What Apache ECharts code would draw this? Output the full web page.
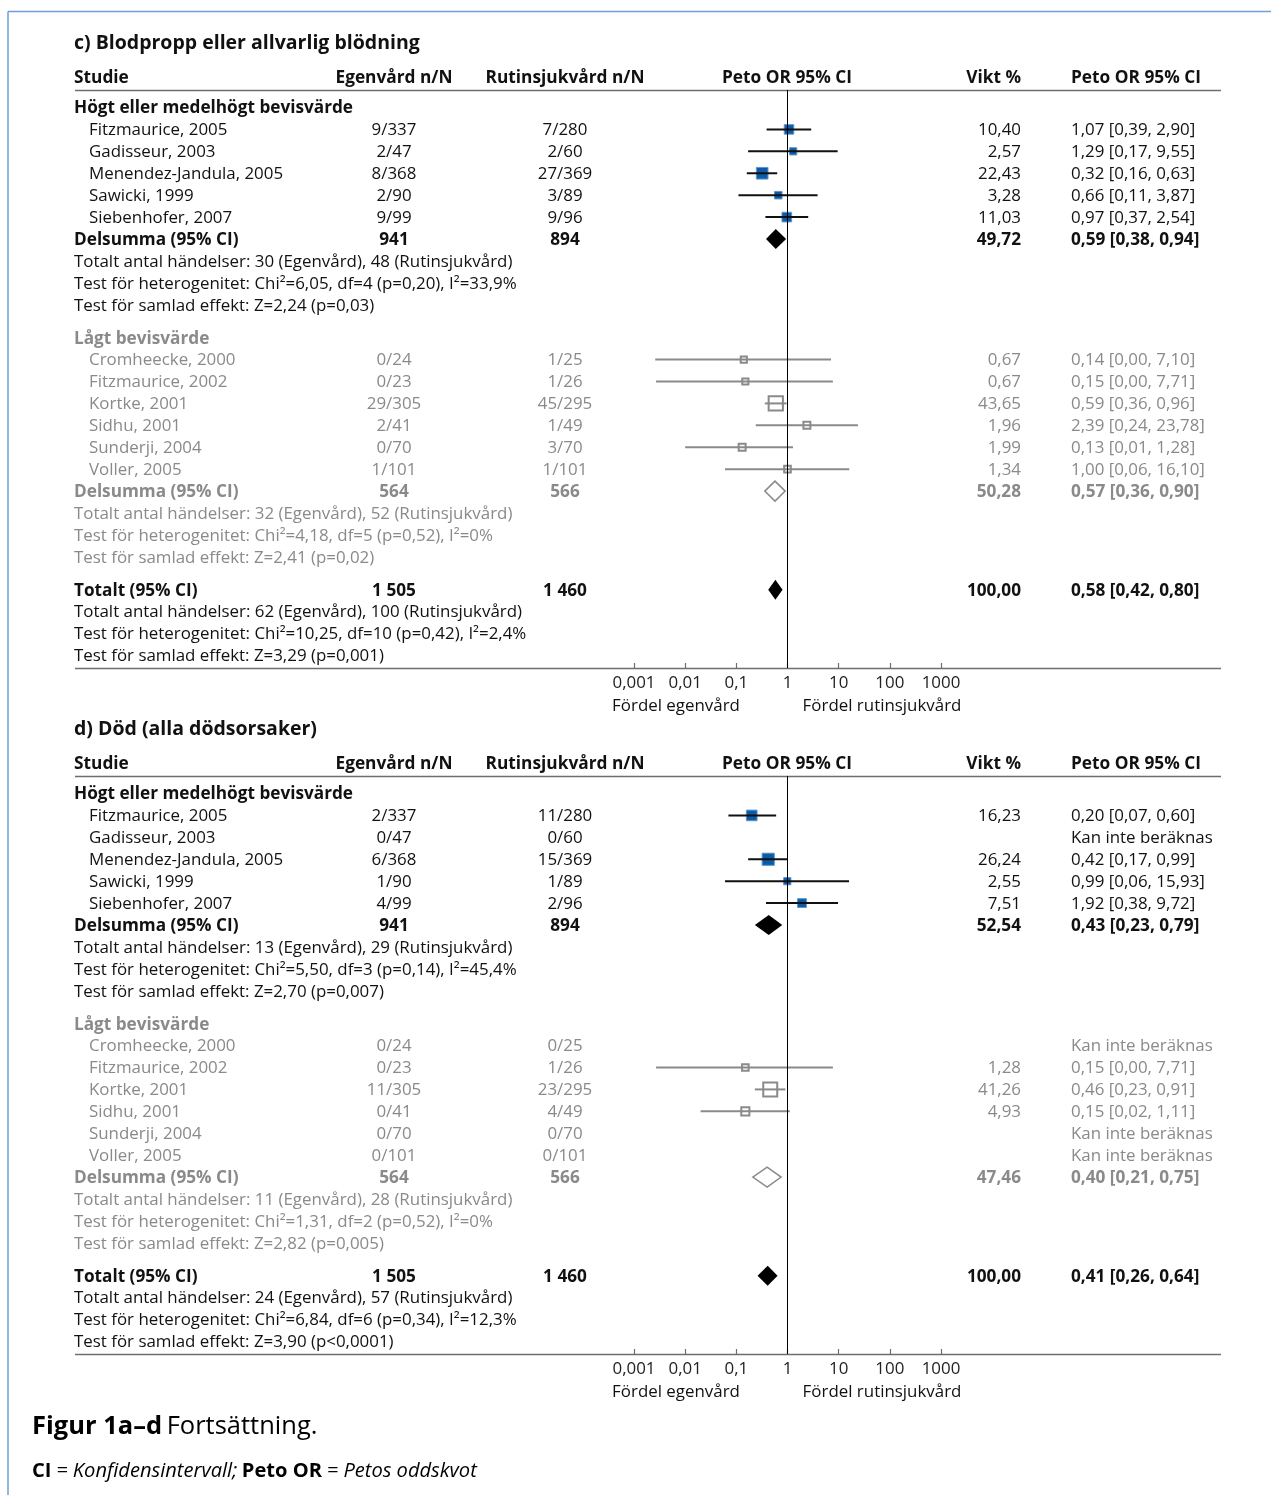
<!DOCTYPE html>
<html>
<head>
<meta charset="utf-8">
<script src="https://cdn.jsdelivr.net/npm/echarts@6/dist/echarts.min.js"></script>
<style>
html,body{margin:0;padding:0;background:#fff}
#chart{width:1271px;height:1495px}
</style>
</head>
<body>
<div id="chart"></div>
<script>
// ---------- shared labels ----------
const headers = ['Studie', 'Egenvård n/N', 'Rutinsjukvård n/N', 'Peto OR 95% CI', 'Vikt %', 'Peto OR 95% CI'];
const groupNames = ['Högt eller medelhögt bevisvärde', 'Lågt bevisvärde'];
const subLabel = 'Delsumma (95% CI)';
const totalLabel = 'Totalt (95% CI)';
const notEstimable = 'Kan inte beräknas';
const sideLabels = ['Fördel egenvård', 'Fördel rutinsjukvård'];
const axisTicks = [0.001, 0.01, 0.1, 1, 10, 100, 1000];
const highStudies = ['Fitzmaurice, 2005', 'Gadisseur, 2003', 'Menendez-Jandula, 2005', 'Sawicki, 1999', 'Siebenhofer, 2007'];
const lowStudies = ['Cromheecke, 2000', 'Fitzmaurice, 2002', 'Kortke, 2001', 'Sidhu, 2001', 'Sunderji, 2004', 'Voller, 2005'];

// ---------- c) Blodpropp eller allvarlig blödning ----------
const cTitle = 'c) Blodpropp eller allvarlig blödning';
const cHighEgen = [[9, 337], [2, 47], [8, 368], [2, 90], [9, 99]];
const cHighRutin = [[7, 280], [2, 60], [27, 369], [3, 89], [9, 96]];
const cHighWeight = [10.40, 2.57, 22.43, 3.28, 11.03];
const cHighOR = [[1.07, 0.39, 2.90], [1.29, 0.17, 9.55], [0.32, 0.16, 0.63], [0.66, 0.11, 3.87], [0.97, 0.37, 2.54]];
const cHighTotals = [941, 894];
const cHighSubWeight = 49.72;
const cHighSubOR = [0.59, 0.38, 0.94];
const cHighTests = ['Totalt antal händelser: 30 (Egenvård), 48 (Rutinsjukvård)',
  'Test för heterogenitet: Chi²=6,05, df=4 (p=0,20), I²=33,9%',
  'Test för samlad effekt: Z=2,24 (p=0,03)'];

const cLowEgen = [[0, 24], [0, 23], [29, 305], [2, 41], [0, 70], [1, 101]];
const cLowRutin = [[1, 25], [1, 26], [45, 295], [1, 49], [3, 70], [1, 101]];
const cLowWeight = [0.67, 0.67, 43.65, 1.96, 1.99, 1.34];
const cLowOR = [[0.14, 0.0026, 7.10], [0.15, 0.0027, 7.71], [0.59, 0.36, 0.96], [2.39, 0.24, 23.78], [0.13, 0.01, 1.28], [1.00, 0.06, 16.10]];
const cLowTotals = [564, 566];
const cLowSubWeight = 50.28;
const cLowSubOR = [0.57, 0.36, 0.90];
const cLowTests = ['Totalt antal händelser: 32 (Egenvård), 52 (Rutinsjukvård)',
  'Test för heterogenitet: Chi²=4,18, df=5 (p=0,52), I²=0%',
  'Test för samlad effekt: Z=2,41 (p=0,02)'];

const cTotals = [1505, 1460];
const cTotalWeight = 100.00;
const cTotalOR = [0.58, 0.42, 0.80];
const cTotalTests = ['Totalt antal händelser: 62 (Egenvård), 100 (Rutinsjukvård)',
  'Test för heterogenitet: Chi²=10,25, df=10 (p=0,42), I²=2,4%',
  'Test för samlad effekt: Z=3,29 (p=0,001)'];

// ---------- d) Död (alla dödsorsaker) ----------
const dTitle = 'd) Död (alla dödsorsaker)';
const dHighEgen = [[2, 337], [0, 47], [6, 368], [1, 90], [4, 99]];
const dHighRutin = [[11, 280], [0, 60], [15, 369], [1, 89], [2, 96]];
const dHighWeight = [16.23, null, 26.24, 2.55, 7.51];
const dHighOR = [[0.20, 0.07, 0.60], null, [0.42, 0.17, 0.99], [0.99, 0.06, 15.93], [1.92, 0.38, 9.72]];
const dHighTotals = [941, 894];
const dHighSubWeight = 52.54;
const dHighSubOR = [0.43, 0.23, 0.79];
const dHighTests = ['Totalt antal händelser: 13 (Egenvård), 29 (Rutinsjukvård)',
  'Test för heterogenitet: Chi²=5,50, df=3 (p=0,14), I²=45,4%',
  'Test för samlad effekt: Z=2,70 (p=0,007)'];

const dLowEgen = [[0, 24], [0, 23], [11, 305], [0, 41], [0, 70], [0, 101]];
const dLowRutin = [[0, 25], [1, 26], [23, 295], [4, 49], [0, 70], [0, 101]];
const dLowWeight = [null, 1.28, 41.26, 4.93, null, null];
const dLowOR = [null, [0.15, 0.0027, 7.71], [0.46, 0.23, 0.91], [0.15, 0.02, 1.11], null, null];
const dLowTotals = [564, 566];
const dLowSubWeight = 47.46;
const dLowSubOR = [0.40, 0.21, 0.75];
const dLowTests = ['Totalt antal händelser: 11 (Egenvård), 28 (Rutinsjukvård)',
  'Test för heterogenitet: Chi²=1,31, df=2 (p=0,52), I²=0%',
  'Test för samlad effekt: Z=2,82 (p=0,005)'];

const dTotals = [1505, 1460];
const dTotalWeight = 100.00;
const dTotalOR = [0.41, 0.26, 0.64];
const dTotalTests = ['Totalt antal händelser: 24 (Egenvård), 57 (Rutinsjukvård)',
  'Test för heterogenitet: Chi²=6,84, df=6 (p=0,34), I²=12,3%',
  'Test för samlad effekt: Z=3,90 (p<0,0001)'];

// ---------- styling & layout ----------
const FONT = '"Open Sans", "Noto Sans", sans-serif';
const BLACK = '#111111';
const GRAY = '#8a8a8a';
const BLUE = '#0d5ba7';
const BLUE_EDGE = '#5e95cc';
const RULE = '#6e6e6e';
const ROW = 21.92;                       // pixel height of one table row
const SECTION_Y0 = [107.5, 793.5];       // pixel y of row 0 in each section
const T_MIN = -3.6, T_MAX = 28;          // row range of the text grids
const F_MIN = -0.8, F_MAX = 25.57;       // row range of the forest grids (header rule .. axis)
const COL = { name: 74, study: 89, egen: 394, rutin: 565, forest: 787, weight: 1021, ci: 1071,
              favL: 676, favR: 882, ruleL: 75, ruleR: 1221 };
const FOREST_LEFT = 634, FOREST_WIDTH = 307;
const ROWS = { title: -2.99, header: -1.39, high: 0, low: 10.5, total: 22, fav: 27.26 };
const SIZE = { body: 16.9, bold: 17.2, head: 17.3, title: 19.5 };
const TEXT_DY = 1;

const fmt = v => v.toFixed(2).replace('.', ',');
const fmtN = n => String(n).replace(/\B(?=(\d{3})+(?!\d))/g, ' ');
const ciText = o => `${fmt(o[0])} [${fmt(o[1])}, ${fmt(o[2])}]`;

function buildSection(title, high, low, total) {
  const texts = [];
  const marks = [];
  const add = (x, row, text, opts) => {
    const t = Object.assign({ x, row, text, align: 'left', bold: false, color: BLACK }, opts || {});
    if (!t.size) t.size = t.bold ? SIZE.bold : SIZE.body;
    texts.push(t);
  };

  add(COL.name, ROWS.title, title, { bold: true, size: SIZE.title });
  add(COL.name, ROWS.header, headers[0], { bold: true, size: SIZE.head });
  add(COL.egen, ROWS.header, headers[1], { bold: true, size: SIZE.head, align: 'center' });
  add(COL.rutin, ROWS.header, headers[2], { bold: true, size: SIZE.head, align: 'center' });
  add(COL.forest, ROWS.header, headers[3], { bold: true, size: SIZE.head, align: 'center' });
  add(COL.weight, ROWS.header, headers[4], { bold: true, size: SIZE.head, align: 'right' });
  add(COL.ci, ROWS.header, headers[5], { bold: true, size: SIZE.head });

  const groups = [
    Object.assign({ name: groupNames[0], start: ROWS.high, studies: highStudies, color: BLACK, kind: 0 }, high),
    Object.assign({ name: groupNames[1], start: ROWS.low, studies: lowStudies, color: GRAY, kind: 1 }, low)
  ];
  groups.forEach(g => {
    const color = g.color;
    add(COL.name, g.start, g.name, { bold: true, color });
    g.studies.forEach((s, i) => {
      const r = g.start + 1 + i;
      add(COL.study, r, s, { color });
      add(COL.egen, r, g.egen[i].join('/'), { align: 'center', color });
      add(COL.rutin, r, g.rutin[i].join('/'), { align: 'center', color });
      if (g.or[i]) {
        add(COL.weight, r, fmt(g.weight[i]), { align: 'right', color });
        add(COL.ci, r, ciText(g.or[i]), { color });
        marks.push([g.or[i][0], r, g.or[i][1], g.or[i][2], g.weight[i], g.kind]);
      } else {
        add(COL.ci, r, notEstimable, { color });
      }
    });
    const rs = g.start + 1 + g.studies.length;
    add(COL.name, rs, subLabel, { bold: true, color });
    add(COL.egen, rs, fmtN(g.totals[0]), { bold: true, align: 'center', color });
    add(COL.rutin, rs, fmtN(g.totals[1]), { bold: true, align: 'center', color });
    add(COL.weight, rs, fmt(g.subWeight), { bold: true, align: 'right', color });
    add(COL.ci, rs, ciText(g.subOR), { bold: true, color });
    marks.push([g.subOR[0], rs, g.subOR[1], g.subOR[2], g.subWeight, g.kind === 0 ? 2 : 3]);
    g.tests.forEach((t, j) => add(COL.name, rs + 1 + j, t, { color }));
  });

  const rt = ROWS.total;
  add(COL.name, rt, totalLabel, { bold: true });
  add(COL.egen, rt, fmtN(total.totals[0]), { bold: true, align: 'center' });
  add(COL.rutin, rt, fmtN(total.totals[1]), { bold: true, align: 'center' });
  add(COL.weight, rt, fmt(total.weight), { bold: true, align: 'right' });
  add(COL.ci, rt, ciText(total.or), { bold: true });
  marks.push([total.or[0], rt, total.or[1], total.or[2], total.weight, 2]);
  total.tests.forEach((t, j) => add(COL.name, rt + 1 + j, t));

  add(COL.favL, ROWS.fav, sideLabels[0], { align: 'center' });
  add(COL.favR, ROWS.fav, sideLabels[1], { align: 'center' });

  // horizontal table rules
  texts.push({ x: COL.ruleL, x2: COL.ruleR, row: F_MIN, rule: true });
  texts.push({ x: COL.ruleL, x2: COL.ruleR, row: F_MAX, rule: true });
  return { texts, marks };
}

const sections = [
  buildSection(cTitle,
    { egen: cHighEgen, rutin: cHighRutin, weight: cHighWeight, or: cHighOR, totals: cHighTotals, subWeight: cHighSubWeight, subOR: cHighSubOR, tests: cHighTests },
    { egen: cLowEgen, rutin: cLowRutin, weight: cLowWeight, or: cLowOR, totals: cLowTotals, subWeight: cLowSubWeight, subOR: cLowSubOR, tests: cLowTests },
    { totals: cTotals, weight: cTotalWeight, or: cTotalOR, tests: cTotalTests }),
  buildSection(dTitle,
    { egen: dHighEgen, rutin: dHighRutin, weight: dHighWeight, or: dHighOR, totals: dHighTotals, subWeight: dHighSubWeight, subOR: dHighSubOR, tests: dHighTests },
    { egen: dLowEgen, rutin: dLowRutin, weight: dLowWeight, or: dLowOR, totals: dLowTotals, subWeight: dLowSubWeight, subOR: dLowSubOR, tests: dLowTests },
    { totals: dTotals, weight: dTotalWeight, or: dTotalOR, tests: dTotalTests })
];

function textRenderer(items) {
  return function (params, api) {
    const it = items[params.dataIndex];
    const p = api.coord([api.value(0), api.value(1)]);
    if (it.rule) {
      const q = api.coord([it.x2, it.row]);
      return { type: 'line', shape: { x1: p[0], y1: Math.round(p[1]) + 0.5, x2: q[0], y2: Math.round(q[1]) + 0.5 },
               style: { stroke: RULE, lineWidth: 1.6 } };
    }
    return {
      type: 'text', x: p[0], y: p[1] + TEXT_DY,
      style: { text: it.text, align: it.align, verticalAlign: 'middle', fontFamily: FONT,
               fontSize: it.size, fontWeight: it.bold ? 'bold' : 'normal', fill: it.color }
    };
  };
}

function forestRenderer(params, api) {
  const est = api.value(0), row = api.value(1), lo = api.value(2), hi = api.value(3), w = api.value(4), kind = api.value(5);
  const c = api.coord([est, row]);
  const a = api.coord([lo, row]);
  const b = api.coord([hi, row]);
  if (kind >= 2) {
    const h = 10;
    return {
      type: 'polygon',
      shape: { points: [[a[0], c[1]], [c[0], c[1] - h], [b[0], c[1]], [c[0], c[1] + h]] },
      style: kind === 2 ? { fill: '#000' } : { fill: '#fff', stroke: GRAY, lineWidth: 1.5 }
    };
  }
  const s = 5 + 1.4 * Math.sqrt(w);
  const isHigh = kind === 0;
  return {
    type: 'group',
    children: [
      { type: 'rect', shape: { x: c[0] - s / 2, y: c[1] - s / 2, width: s, height: s },
        style: isHigh ? { fill: BLUE, stroke: BLUE_EDGE, lineWidth: 1 } : { fill: '#fff', stroke: GRAY, lineWidth: 2 } },
      { type: 'line', shape: { x1: a[0], y1: c[1], x2: b[0], y2: c[1] },
        style: { stroke: isHigh ? BLACK : GRAY, lineWidth: 2 } }
    ]
  };
}

const grid = [], xAxis = [], yAxis = [], series = [];
sections.forEach((sec, k) => {
  const y0 = SECTION_Y0[k];
  const tg = grid.length;
  grid.push({ left: 0, width: 1271, top: y0 + ROW * T_MIN, height: ROW * (T_MAX - T_MIN), containLabel: false });
  xAxis.push({ gridIndex: tg, type: 'value', min: 0, max: 1271, show: false });
  yAxis.push({ gridIndex: tg, type: 'value', min: T_MIN, max: T_MAX, inverse: true, show: false });
  const fg = grid.length;
  grid.push({ left: FOREST_LEFT, width: FOREST_WIDTH, top: y0 + ROW * F_MIN, height: ROW * (F_MAX - F_MIN), containLabel: false });
  xAxis.push({
    gridIndex: fg, type: 'log', logBase: 10, position: 'bottom',
    min: axisTicks[0], max: axisTicks[axisTicks.length - 1], splitNumber: 6,
    axisLine: { show: false, onZero: false },
    axisTick: { show: true, inside: true, length: 5, lineStyle: { color: RULE, width: 1.2 } },
    axisLabel: { margin: 6.5, fontFamily: FONT, fontSize: 16.9, color: '#222',
                 formatter: v => String(Number(v.toPrecision(1))).replace('.', ',') },
    splitLine: { show: false }
  });
  yAxis.push({ gridIndex: fg, type: 'value', min: F_MIN, max: F_MAX, inverse: true, show: false });

  series.push({
    type: 'custom', xAxisIndex: tg, yAxisIndex: tg, clip: false, silent: true,
    data: sec.texts.map(t => [t.x, t.row]), encode: { x: 0, y: 1 },
    renderItem: textRenderer(sec.texts)
  });
  // line of no effect (OR = 1)
  series.push({
    type: 'line', xAxisIndex: fg, yAxisIndex: fg, silent: true, symbol: 'none',
    data: [[1, F_MIN], [1, F_MAX]], lineStyle: { color: '#000', width: 1 }
  });
  series.push({
    type: 'custom', xAxisIndex: fg, yAxisIndex: fg, clip: false, silent: true,
    data: sec.marks, encode: { x: [0, 2, 3], y: 1 },
    renderItem: forestRenderer
  });
});

const chart = echarts.init(document.getElementById('chart'), null, { renderer: 'canvas' });
chart.setOption({
  animation: false,
  backgroundColor: '#fff',
  textStyle: { fontFamily: FONT },
  title: [
    { left: 32, top: 1414, padding: 0, text: '{b|Figur 1a–d} {n|Fortsättning.}',
      textStyle: { fontWeight: 'normal', rich: {
        b: { fontFamily: FONT, fontWeight: 'bold', fontSize: 25.5, color: '#000' },
        n: { fontFamily: FONT, fontWeight: 'normal', fontSize: 25.5, color: '#000' } } } },
    { left: 32, top: 1461, padding: 0, text: '{b|CI} {i|= Konfidensintervall;} {b|Peto OR} {i|= Petos oddskvot}',
      textStyle: { fontWeight: 'normal', rich: {
        b: { fontFamily: FONT, fontWeight: 'bold', fontSize: 20.1, color: '#000' },
        i: { fontFamily: FONT, fontWeight: 'normal', fontStyle: 'italic', fontSize: 20.1, color: '#000' } } } }
  ],
  graphic: [
    { type: 'line', shape: { x1: 8, y1: 11.5, x2: 1271, y2: 11.5 }, style: { stroke: '#6b9fd6', lineWidth: 1.5 }, silent: true },
    { type: 'line', shape: { x1: 8, y1: 11.5, x2: 8, y2: 1495 }, style: { stroke: '#6b9fd6', lineWidth: 1.5 }, silent: true }
  ],
  grid, xAxis, yAxis, series
});
</script>
</body>
</html>
